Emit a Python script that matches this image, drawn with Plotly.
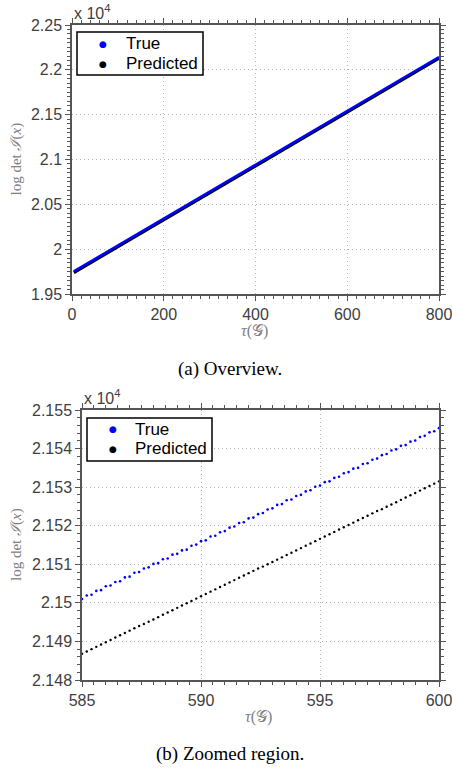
import plotly.graph_objects as go

# ---------------- data ----------------
# Overview panel
tau_overview = [4, 40, 80, 120, 160, 200, 240, 280, 320, 360, 400,
                440, 480, 520, 560, 600, 640, 680, 720, 760, 800]
true_overview = [19752, 19860, 19981, 20101, 20222, 20342, 20462, 20583, 20703, 20824, 20944,
                 21064, 21185, 21305, 21426, 21546, 21665, 21784, 21904, 22023, 22142]
pred_overview = [19738, 19846, 19967, 20087, 20208, 20328, 20448, 20569, 20689, 20810, 20930,
                 21050, 21171, 21291, 21412, 21532, 21651, 21770, 21890, 22009, 22128]

# Zoomed panel
tau_zoom = [585.0, 585.2, 585.4, 585.6, 585.8, 586.0, 586.2, 586.4, 586.6, 586.8,
            587.0, 587.2, 587.4, 587.6, 587.8, 588.0, 588.2, 588.4, 588.6, 588.8,
            589.0, 589.2, 589.4, 589.6, 589.8, 590.0, 590.2, 590.4, 590.6, 590.8,
            591.0, 591.2, 591.4, 591.6, 591.8, 592.0, 592.2, 592.4, 592.6, 592.8,
            593.0, 593.2, 593.4, 593.6, 593.8, 594.0, 594.2, 594.4, 594.6, 594.8,
            595.0, 595.2, 595.4, 595.6, 595.8, 596.0, 596.2, 596.4, 596.6, 596.8,
            597.0, 597.2, 597.4, 597.6, 597.8, 598.0, 598.2, 598.4, 598.6, 598.8,
            599.0, 599.2, 599.4, 599.6, 599.8, 600.0]
true_zoom = [21501.0, 21501.9, 21502.1, 21503.1, 21503.3, 21504.3, 21504.5, 21505.4, 21505.6, 21506.6,
             21506.8, 21507.8, 21508.0, 21508.9, 21509.2, 21510.1, 21510.3, 21511.3, 21511.5, 21512.5,
             21512.7, 21513.6, 21513.8, 21514.8, 21515.1, 21516.0, 21516.2, 21517.2, 21517.4, 21518.3,
             21518.6, 21519.5, 21519.8, 21520.7, 21520.9, 21521.9, 21522.1, 21523.0, 21523.3, 21524.2,
             21524.5, 21525.4, 21525.6, 21526.6, 21526.8, 21527.7, 21528.0, 21528.9, 21529.2, 21530.1,
             21530.4, 21531.3, 21531.5, 21532.4, 21532.7, 21533.6, 21533.9, 21534.8, 21535.0, 21536.0,
             21536.2, 21537.1, 21537.4, 21538.3, 21538.6, 21539.5, 21539.8, 21540.7, 21540.9, 21541.8,
             21542.1, 21543.0, 21543.3, 21544.2, 21544.5, 21545.3]
pred_zoom = [21486.8, 21487.4, 21488.0, 21488.6, 21489.2, 21489.8, 21490.4, 21491.0, 21491.6, 21492.2,
             21492.8, 21493.4, 21494.0, 21494.5, 21495.1, 21495.7, 21496.3, 21496.9, 21497.5, 21498.1,
             21498.7, 21499.3, 21499.9, 21500.5, 21501.1, 21501.7, 21502.3, 21502.9, 21503.5, 21504.1,
             21504.7, 21505.3, 21505.9, 21506.5, 21507.1, 21507.7, 21508.3, 21508.9, 21509.4, 21510.0,
             21510.6, 21511.2, 21511.8, 21512.4, 21513.0, 21513.6, 21514.2, 21514.8, 21515.4, 21516.0,
             21516.6, 21517.2, 21517.8, 21518.4, 21519.0, 21519.6, 21520.2, 21520.8, 21521.4, 21522.0,
             21522.6, 21523.2, 21523.8, 21524.3, 21524.9, 21525.5, 21526.1, 21526.7, 21527.3, 21527.9,
             21528.5, 21529.1, 21529.7, 21530.3, 21530.9, 21531.5]

series_names = ["True", "Predicted"]

x1_ticks = [0, 200, 400, 600, 800]
y1_ticks = [19500, 20000, 20500, 21000, 21500, 22000, 22500]
y1_labels = ["1.95", "2", "2.05", "2.1", "2.15", "2.2", "2.25"]
x2_ticks = [585, 590, 595, 600]
y2_ticks = [21480, 21490, 21500, 21510, 21520, 21530, 21540, 21550]
y2_labels = ["2.148", "2.149", "2.15", "2.151", "2.152", "2.153", "2.154", "2.155"]

captions = ["(a) Overview.", "(b) Zoomed region."]

# ---------------- styles ----------------
W, H = 452, 772
BLUE = "#0000ff"
AXC = "#555555"
TICKC = "#404040"
GRIDC = "#b4b4b4"
SANS = "Liberation Sans, Arial, sans-serif"
SERIF = "Liberation Serif, DejaVu Serif, serif"


def px(x):
    return x / W


def py(y):
    return 1 - y / H


fig = go.Figure()

# Overview: predicted below, true on top
fig.add_trace(go.Scatter(x=tau_overview, y=pred_overview, mode="lines", name=series_names[1],
                         line=dict(color="black", width=3), showlegend=False,
                         xaxis="x", yaxis="y"))
fig.add_trace(go.Scatter(x=tau_overview, y=true_overview, mode="lines", name=series_names[0],
                         line=dict(color=BLUE, width=2.6), showlegend=False,
                         xaxis="x", yaxis="y"))
# Zoomed
fig.add_trace(go.Scatter(x=tau_zoom, y=true_zoom, mode="markers", name=series_names[0],
                         showlegend=False, marker=dict(color=BLUE, size=2.6),
                         xaxis="x2", yaxis="y2"))
fig.add_trace(go.Scatter(x=tau_zoom, y=pred_zoom, mode="markers", name=series_names[1],
                         showlegend=False, marker=dict(color="black", size=2.4),
                         xaxis="x2", yaxis="y2"))

common_axis = dict(
    showline=True, linecolor=AXC, linewidth=1.5, mirror="ticks",
    ticks="outside", ticklen=5, tickwidth=1, tickcolor=AXC,
    showgrid=True, gridcolor=GRIDC, gridwidth=1, griddash="1px,3px",
    zeroline=False, automargin=False, ticklabeloverflow="allow",
    tickfont=dict(family=SANS, size=16, color=TICKC),
)

fig.update_layout(
    width=W, height=H, margin=dict(l=0, r=0, t=0, b=0, autoexpand=False),
    paper_bgcolor="white", plot_bgcolor="white", showlegend=False,
    xaxis=dict(domain=[px(72), px(439)], range=[0, 800], tickmode="array", tickvals=x1_ticks,
               anchor="y",
               minor=dict(tickmode="linear", tick0=0, dtick=20, ticks="outside", ticklen=3,
                          tickcolor=AXC, showgrid=False),
               **common_axis),
    yaxis=dict(domain=[py(294), py(25)], range=[19500, 22500], tickmode="array",
               tickvals=y1_ticks, ticktext=y1_labels, anchor="x",
               minor=dict(tickmode="linear", tick0=19500, dtick=50, ticks="outside", ticklen=3,
                          tickcolor=AXC, showgrid=False),
               **common_axis),
    xaxis2=dict(domain=[px(82), px(439)], range=[585, 600], tickmode="array", tickvals=x2_ticks,
                anchor="y2",
                minor=dict(tickmode="linear", tick0=585, dtick=0.5, ticks="outside", ticklen=3,
                           tickcolor=AXC, showgrid=False),
                **common_axis),
    yaxis2=dict(domain=[py(680), py(410)], range=[21480, 21550], tickmode="array",
                tickvals=y2_ticks, ticktext=y2_labels, anchor="x2",
                minor=dict(tickmode="linear", tick0=21480, dtick=2, ticks="outside", ticklen=3,
                           tickcolor=AXC, showgrid=False),
                **common_axis),
)

# legend boxes (drawn as shapes + text so that they match the compact reference boxes)
legend_boxes = [
    dict(x0=77, y0=32, x1=203, y1=75, dot_x=103, text_x=124, rows=[44, 64]),
    dict(x0=87, y0=418, x1=212, y1=461, dot_x=113, text_x=133, rows=[429, 449]),
]
legend_colors = [BLUE, "black"]

shapes = []
annotations = []
for box in legend_boxes:
    shapes.append(dict(type="rect", xref="paper", yref="paper",
                       x0=px(box["x0"]), x1=px(box["x1"]), y0=py(box["y1"]), y1=py(box["y0"]),
                       line=dict(color="black", width=1.5), fillcolor="white", layer="above"))
    for name, col, ry in zip(series_names, legend_colors, box["rows"]):
        annotations.append(dict(x=px(box["dot_x"]), y=py(ry), text="●", xanchor="center",
                                yanchor="middle", font=dict(family="DejaVu Sans", size=9, color=col)))
        annotations.append(dict(x=px(box["text_x"]), y=py(ry), text=name, xanchor="left",
                                yanchor="middle", font=dict(family=SANS, size=17, color="black")))

annotations += [
    # x 10^4 multipliers
    dict(x=px(72), y=py(24), text="x 10<sup>4</sup>", xanchor="left", yanchor="bottom",
         font=dict(family=SANS, size=16, color=TICKC)),
    dict(x=px(82), y=py(409), text="x 10<sup>4</sup>", xanchor="left", yanchor="bottom",
         font=dict(family=SANS, size=16, color=TICKC)),
    # y titles
    dict(x=px(16), y=py(159.5), text="log det <i>ℐ</i>(<i>x</i>)", textangle=-90,
         xanchor="center", yanchor="middle", font=dict(family=SERIF, size=15, color="#808080")),
    dict(x=px(16), y=py(545), text="log det <i>ℐ</i>(<i>x</i>)", textangle=-90,
         xanchor="center", yanchor="middle", font=dict(family=SERIF, size=15, color="#808080")),
    # x titles
    dict(x=px(254), y=py(331), text="<i>τ</i>(𝒢)", xanchor="center", yanchor="middle",
         font=dict(family=SERIF, size=16, color="#808080")),
    dict(x=px(258), y=py(717), text="<i>τ</i>(𝒢)", xanchor="center", yanchor="middle",
         font=dict(family=SERIF, size=16, color="#808080")),
    # captions
    dict(x=px(230), y=py(369), text=captions[0], xanchor="center", yanchor="middle",
         font=dict(family="Liberation Serif, serif", size=19, color="black")),
    dict(x=px(230), y=py(754), text=captions[1], xanchor="center", yanchor="middle",
         font=dict(family="Liberation Serif, serif", size=19, color="black")),
]
for a in annotations:
    a.update(xref="paper", yref="paper", showarrow=False)
fig.update_layout(annotations=annotations, shapes=shapes)

# remove the default 8px page margin so the figure fills the window exactly
fig.write_html("out.html",
               config={"displayModeBar": False},
               post_script="document.body.style.margin='0';document.body.style.overflow='hidden';")
